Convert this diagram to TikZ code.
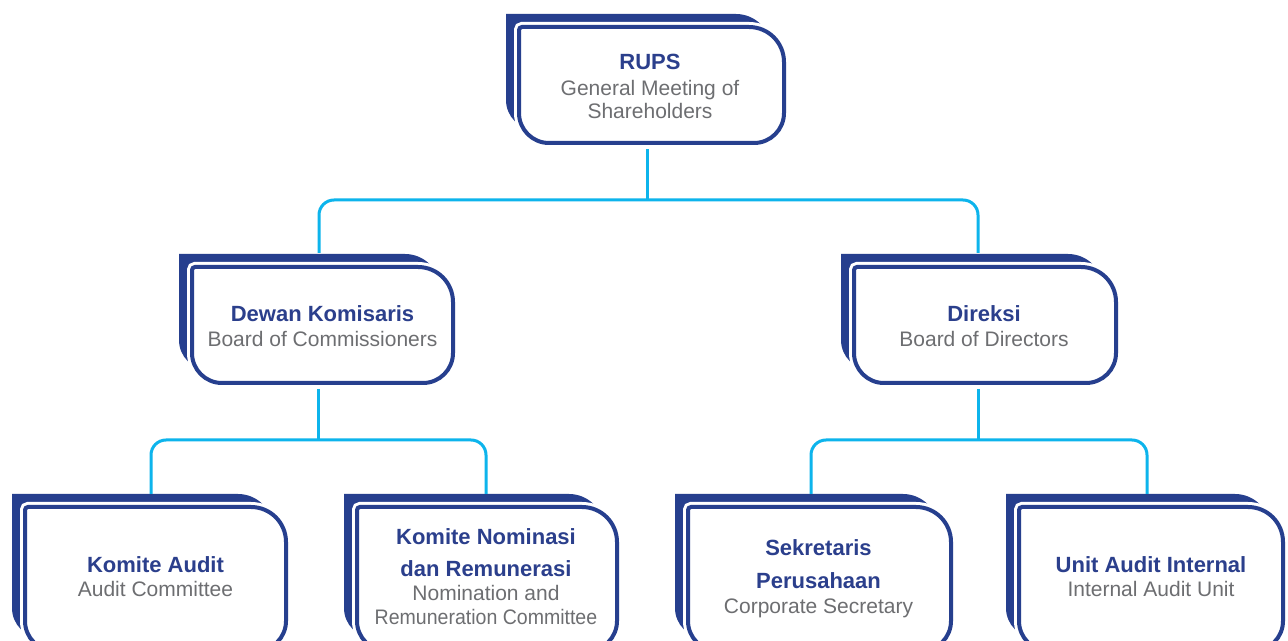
\documentclass[tikz,border=0pt]{standalone}
\usepackage{fontspec}
\setmainfont{Liberation Sans}
\usetikzlibrary{calc}
\definecolor{navy}{HTML}{263F8E}
\definecolor{tblue}{HTML}{2B3F8C}
\definecolor{tgrey}{HTML}{6D6E71}
\definecolor{cyanl}{HTML}{0DB4EC}
\tikzset{
  backshape/.style={fill=navy},
  frontgap/.style={draw=white,line width=10pt},
  frontbox/.style={fill=white,draw=navy,line width=4pt},
  conn/.style={draw=cyanl,line width=3pt},
  ttl/.style={font=\fontsize{22}{26}\selectfont\bfseries,text=tblue,anchor=base,inner sep=0pt},
  sub/.style={font=\fontsize{21}{24}\selectfont,text=tgrey,anchor=base,inner sep=0pt},
  boxnode/.style={inner sep=0pt,draw=none}
}
% #1 name, #2 x1, #3 ytop, #4 x2, #5 ybot  (pixel coordinates, y downward)
\newcommand{\orgbox}[5]{%
  \pgfmathsetmacro\xa{#2}\pgfmathsetmacro\xb{#4}%
  \pgfmathsetmacro\yt{640-#3}\pgfmathsetmacro\yb{640-#5}%
  \pgfmathsetmacro\bxa{\xa-13}\pgfmathsetmacro\bxb{\xb-13}%
  \pgfmathsetmacro\byt{\yt+13}\pgfmathsetmacro\byb{\yb+13}%
  \pgfmathsetmacro\bw{\xb-\xa}\pgfmathsetmacro\bh{\yt-\yb}%
  \path[backshape] (\bxa,\byt) -- (\bxb-35,\byt) arc[start angle=90,end angle=0,radius=35pt]
     -- (\bxb,\byb+30) arc[start angle=0,end angle=-90,radius=30pt]
     -- (\bxa+30,\byb) arc[start angle=270,end angle=180,radius=30pt] -- cycle;
  \foreach \sty in {frontgap,frontbox}{%
  \path[\sty] (\xa,\yt-3) arc[start angle=180,end angle=90,radius=3pt]
     -- (\xb-35,\yt) arc[start angle=90,end angle=0,radius=35pt]
     -- (\xb,\yb+30) arc[start angle=0,end angle=-90,radius=30pt]
     -- (\xa+30,\yb) arc[start angle=270,end angle=180,radius=30pt] -- cycle;}
  \node[boxnode,minimum width=\bw pt,minimum height=\bh pt] (#1) at ({(\xa+\xb)/2},{(\yt+\yb)/2}) {};
}
\begin{document}
\begin{tikzpicture}[x=1pt,y=1pt]
\useasboundingbox (0,0) rectangle (1288,640);
\clip (0,0) rectangle (1288,640);
\fill[white] (0,0) rectangle (1288,640);

% boxes
\orgbox{rups}{519}{27}{784}{143}
\orgbox{dewan}{192}{267}{453}{383}
\orgbox{direksi}{854}{267}{1116}{383}
\orgbox{ka}{25}{507}{286}{651}
\orgbox{kn}{357}{507}{617}{651}
\orgbox{sek}{688}{507}{951}{651}
\orgbox{ua}{1019}{507}{1283}{651}

% texts
\node[ttl] (rups-a) at (650,640-69.5) {RUPS};
\node[sub] (rups-b) at (650,640-95.7) {General Meeting of};
\node[sub] (rups-c) at (650,640-118.3) {Shareholders};

\node[ttl] (dewan-a) at (322.5,640-321.7) {Dewan Komisaris};
\node[sub] (dewan-b) at (322.5,640-346.7) {Board of Commissioners};

\node[ttl] (direksi-a) at (984,640-321.7) {Direksi};
\node[sub] (direksi-b) at (984,640-346.7) {Board of Directors};

\node[ttl] (ka-a) at (155.5,640-572.7) {Komite Audit};
\node[sub] (ka-b) at (155.5,640-596.7) {Audit Committee};

\node[ttl] (kn-a) at (486,640-545) {Komite Nominasi};
\node[ttl] (kn-b) at (486,640-577) {dan Remunerasi};
\node[sub] (kn-c) at (486,640-600.7) {Nomination and};
\node[sub] (kn-d) at (486,640-624) {\scalebox{0.93}[1]{Remuneration Committee}};

\node[ttl] (sek-a) at (818.5,640-556) {Sekretaris};
\node[ttl] (sek-b) at (818.5,640-588.3) {Perusahaan};
\node[sub] (sek-c) at (818.5,640-613.3) {Corporate Secretary};

\node[ttl] (ua-a) at (1151,640-572.7) {Unit Audit Internal};
\node[sub] (ua-b) at (1151,640-596.7) {Internal Audit Unit};

% connector points
\coordinate (rups-out) at ([xshift=-4.5pt,yshift=-6pt]rups.south);
\coordinate (j1) at (647,640-200);
\coordinate (dewan-in) at (319,640-253);
\coordinate (direksi-in) at (978,640-253);
\coordinate (dewan-out) at ([xshift=-4.5pt,yshift=-6pt]dewan.south);
\coordinate (j2) at (318,640-440);
\coordinate (direksi-out) at ([xshift=-7pt,yshift=-6pt]direksi.south);
\coordinate (j3) at (978,640-440);
\coordinate (ka-in) at (151,640-494);
\coordinate (kn-in) at (486,640-494);
\coordinate (sek-in) at (811,640-494);
\coordinate (ua-in) at (1147,640-494);

\draw[conn] (rups-out) -- (j1);
\draw[conn,rounded corners=15pt] (dewan-in) -- (dewan-in |- j1) -- (direksi-in |- j1) -- (direksi-in);
\draw[conn] (dewan-out) -- (j2);
\draw[conn,rounded corners=15pt] (ka-in) -- (ka-in |- j2) -- (kn-in |- j2) -- (kn-in);
\draw[conn] (direksi-out) -- (j3);
\draw[conn,rounded corners=15pt] (sek-in) -- (sek-in |- j3) -- (ua-in |- j3) -- (ua-in);
\end{tikzpicture}
\end{document}
